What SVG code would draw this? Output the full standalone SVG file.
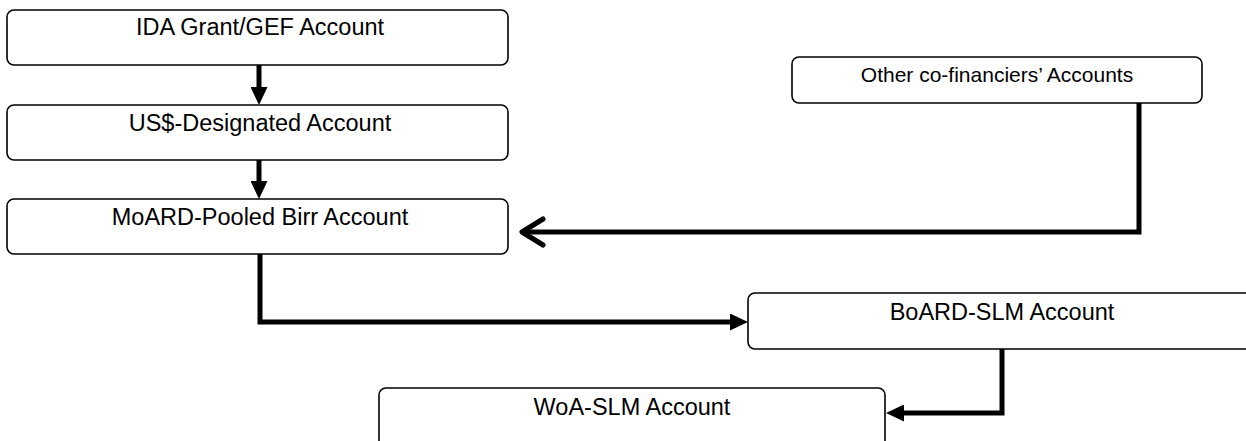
<svg xmlns="http://www.w3.org/2000/svg" width="1246" height="441" viewBox="0 0 1246 441">
<style>
.box{fill:#fff;stroke:#000;stroke-width:1.6}
.t{font-family:"Liberation Sans",Arial,sans-serif;font-size:23.5px;fill:#000;text-anchor:middle}
.t2{font-family:"Liberation Sans",Arial,sans-serif;font-size:21px;fill:#000;text-anchor:middle}
.c{fill:none;stroke:#000;stroke-width:5}
.chev{fill:none;stroke:#000;stroke-width:5;stroke-linecap:round;stroke-linejoin:round}
</style>
<defs>
<marker id="ah" markerUnits="userSpaceOnUse" viewBox="0 0 18 17" refX="0" refY="8.5" markerWidth="18" markerHeight="17" orient="auto">
<path d="M0,0 L18,8.5 L0,17 z" fill="#000"/>
</marker>
</defs>
<rect width="1246" height="441" fill="#fff"/>
<g id="connectors">
<path class="c" d="M259,65 V87" marker-end="url(#ah)"/>
<path class="c" d="M259,160 V181" marker-end="url(#ah)"/>
<path class="c" d="M1139,103 V232 H524"/>
<polyline class="chev" points="543,219 522,232 543,245"/>
<path class="c" d="M260,254 V322 H730" marker-end="url(#ah)"/>
<path class="c" d="M1002,349 V413 H904" marker-end="url(#ah)"/>
</g>
<g id="n1"><rect class="box" x="7" y="10" width="501" height="55" rx="7"/><text class="t" x="260" y="35">IDA Grant/GEF Account</text></g>
<g id="n2"><rect class="box" x="7" y="105" width="501" height="55" rx="7"/><text class="t" x="260" y="131">US$-Designated Account</text></g>
<g id="n3"><rect class="box" x="7" y="199" width="501" height="55" rx="7"/><text class="t" x="260" y="225">MoARD-Pooled Birr Account</text></g>
<g id="n4"><rect class="box" x="792" y="57" width="410" height="46" rx="7"/><text class="t2" x="997" y="82">Other co-financiers’ Accounts</text></g>
<g id="n5"><rect class="box" x="748" y="293" width="506" height="56" rx="7"/><text class="t" x="1002" y="320">BoARD-SLM Account</text></g>
<g id="n6"><rect class="box" x="379" y="388" width="506" height="60" rx="7"/><text class="t" x="632" y="415">WoA-SLM Account</text></g>
</svg>
